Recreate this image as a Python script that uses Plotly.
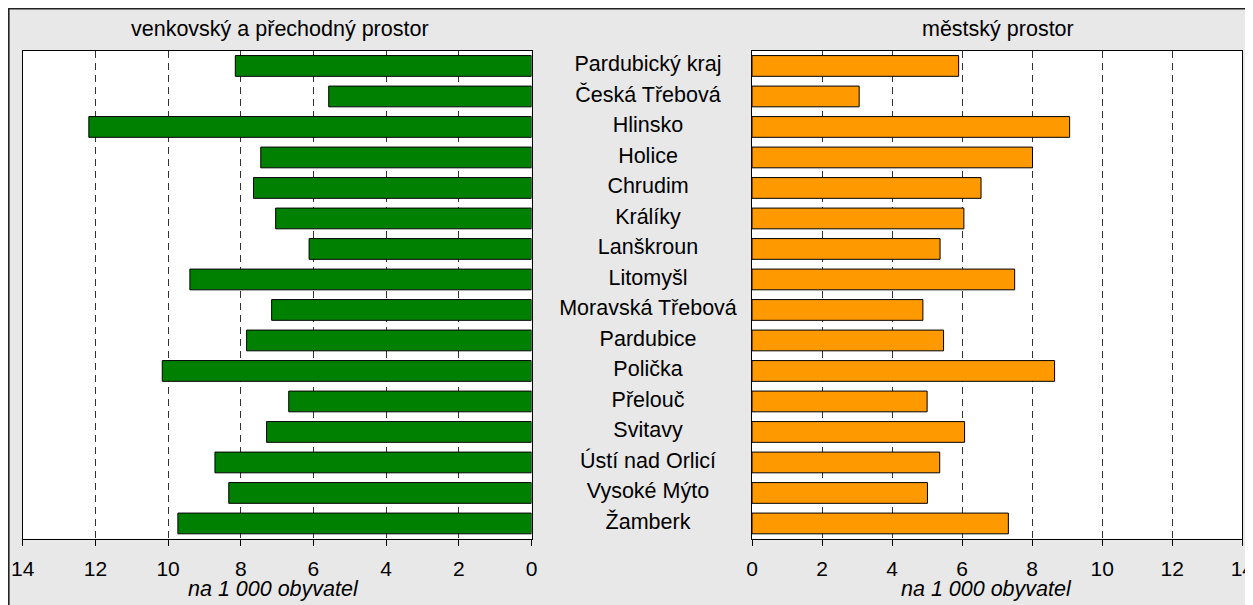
import plotly.graph_objects as go

categories = ["Pardubický kraj", "Česká Třebová", "Hlinsko", "Holice", "Chrudim",
              "Králíky", "Lanškroun", "Litomyšl", "Moravská Třebová", "Pardubice",
              "Polička", "Přelouč", "Svitavy", "Ústí nad Orlicí", "Vysoké Mýto", "Žamberk"]
rural = [8.15, 5.58, 12.18, 7.45, 7.65, 7.04, 6.12, 9.40, 7.15, 7.84,
         10.16, 6.68, 7.29, 8.71, 8.33, 9.73]
urban = [5.90, 3.06, 9.07, 8.01, 6.54, 6.05, 5.37, 7.50, 4.88, 5.47,
         8.64, 5.00, 6.07, 5.36, 5.01, 7.32]
tick_vals = [0, 2, 4, 6, 8, 10, 12, 14]
title_left = "venkovský a přechodný prostor"
title_right = "městský prostor"
axis_title = "na 1 000 obyvatel"

W, H = 1245, 597
FONT = "Liberation Sans, Arial, sans-serif"
FS = 21.5

fig = go.Figure()
fig.add_trace(go.Bar(y=categories, x=rural, orientation="h", xaxis="x", yaxis="y",
                     marker=dict(color="#008000", line=dict(color="black", width=1)),
                     width=0.68, showlegend=False, hoverinfo="x+y"))
fig.add_trace(go.Bar(y=categories, x=urban, orientation="h", xaxis="x2", yaxis="y2",
                     marker=dict(color="#ff9900", line=dict(color="black", width=1)),
                     width=0.68, showlegend=False, hoverinfo="x+y"))
fig.add_trace(go.Scatter(y=categories, x=[0] * len(categories), mode="text", text=categories,
                         textposition="middle center", xaxis="x3", yaxis="y3",
                         textfont=dict(family=FONT, size=FS, color="black"),
                         showlegend=False, hoverinfo="skip"))

# pixel geometry (figure coords)
ydom = [1 - 530.7 / H, 1 - 42.7 / H]
xl = [14.7 / W, 523.5 / W]
xr = [744.0 / W, 1234.3 / W]
xm = [550.0 / W, 730.0 / W]

xaxis_common = dict(
    tickvals=tick_vals, showline=True, linecolor="black", linewidth=1, mirror=True,
    ticks="outside", ticklen=6, tickcolor="black", showgrid=True, gridcolor="#333333",
    griddash="7px,5px", gridwidth=1, zeroline=False, fixedrange=True,
    tickfont=dict(family=FONT, size=21, color="black"), ticklabelstandoff=5,
    ticklabeloverflow="allow", automargin=False,
)
yaxis_common = dict(
    categoryorder="array", categoryarray=categories, range=[15.5, -0.5],
    showline=True, linecolor="black", linewidth=1, mirror=True, showticklabels=False,
    ticks="", showgrid=False, zeroline=False, domain=ydom, fixedrange=True,
)

title_font = dict(family=FONT, size=FS, color="black")
axis_title_font = dict(family=FONT, size=FS, color="black", style="italic")

fig.update_layout(
    width=W, height=H, margin=dict(l=0, r=0, t=0, b=0),
    paper_bgcolor="#e8e8e8", plot_bgcolor="rgba(0,0,0,0)",
    xaxis=dict(domain=xl, range=[14, 0], anchor="y", **xaxis_common),
    xaxis2=dict(domain=xr, range=[0, 14], anchor="y2", **xaxis_common),
    xaxis3=dict(domain=xm, range=[-1, 1], anchor="y3", visible=False, fixedrange=True),
    yaxis=dict(anchor="x", **yaxis_common),
    yaxis2=dict(anchor="x2", **yaxis_common),
    yaxis3=dict(anchor="x3", domain=ydom, categoryorder="array", categoryarray=categories,
                range=[15.5, -0.5], visible=False, fixedrange=True),
    shapes=[
        dict(type="line", xref="paper", yref="paper", x0=0.8 / W, x1=0.8 / W, y0=0, y1=1,
             line=dict(color="#222222", width=1.6), layer="above"),
        dict(type="line", xref="paper", yref="paper", x0=0, x1=1, y0=1 - 0.8 / H,
             y1=1 - 0.8 / H, line=dict(color="#222222", width=1.6), layer="above"),
        dict(type="rect", xref="x domain", yref="y domain", x0=0, x1=1, y0=0, y1=1,
             fillcolor="white", line=dict(width=0), layer="below"),
        dict(type="rect", xref="x2 domain", yref="y2 domain", x0=0, x1=1, y0=0, y1=1,
             fillcolor="white", line=dict(width=0), layer="below"),
    ],
    annotations=[
        dict(text=title_left, xref="paper", yref="paper", x=272 / W,
             y=1 - 20.5 / H, xanchor="center", yanchor="middle", showarrow=False,
             font=title_font),
        dict(text=title_right, xref="paper", yref="paper", x=990.5 / W,
             y=1 - 20.5 / H, xanchor="center", yanchor="middle", showarrow=False,
             font=title_font),
        dict(text=axis_title, xref="paper", yref="paper", x=265 / W,
             y=1 - 580.5 / H, xanchor="center", yanchor="middle", showarrow=False,
             font=axis_title_font),
        dict(text=axis_title, xref="paper", yref="paper", x=978 / W,
             y=1 - 580.5 / H, xanchor="center", yanchor="middle", showarrow=False,
             font=axis_title_font),
    ],
)

fig.write_html("out.html")
